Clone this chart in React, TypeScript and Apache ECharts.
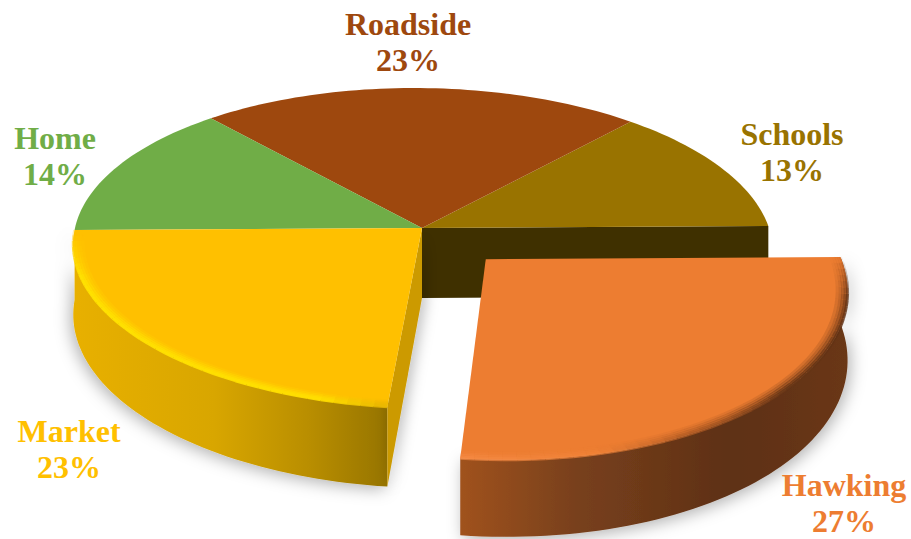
import React, { useEffect, useRef } from "react";
import * as echarts from "echarts";

// Data, in clockwise order from the 3 o'clock position
const categories = ["Hawking", "Market", "Home", "Roadside", "Schools"];
const percents = [27, 23, 14, 23, 13];

// Styling and layout, keyed by category
const topColors: Record<string, string> = {
  Hawking: "#ed7d31", Market: "#ffc000", Home: "#70ad47", Roadside: "#9e480e", Schools: "#997300",
};
const labelPos: Record<string, [number, number]> = {
  Hawking: [844, 503], Market: [69, 449], Home: [55, 156], Roadside: [408, 42], Schools: [792, 152],
};
const explode: Record<string, number> = { Hawking: 0.26 };
const stretchY: Record<string, number> = { Hawking: 1.05 };
const depthScale: Record<string, number> = { Hawking: 0.93 };
const drawOrder = ["Schools", "Roadside", "Home", "Market", "Hawking"];

const CX = 422, CY = 228, A = 347, B = 157.5, K = 0.125, H = 70, START = -0.7, SHEAR = 9;
const rad = (d: number) => (d * Math.PI) / 180;

function makeProject(name: string, startDeg: number, endDeg: number) {
  const mid = rad((startDeg + endDeg) / 2);
  const e = explode[name] || 0;
  const sy = stretchY[name] || 1;
  const ds = depthScale[name] || 1;
  const ox = e * Math.cos(mid), oy = e * Math.sin(mid);
  return (deg: number, r: number, z: number): [number, number] => {
    const X = r * Math.cos(rad(deg)) + ox, Y = r * sy * Math.sin(rad(deg)) + oy;
    const w = 1 / (1 - K * Y);
    return [CX + (A * X + SHEAR * Y) * w, CY + (B * Y + H * ds * z) * w];
  };
}
function arc(p: any, s: number, e: number, r: number, z: number) {
  const pts: [number, number][] = [];
  const n = Math.max(8, Math.ceil(Math.abs(e - s) / 1.5));
  for (let i = 0; i <= n; i++) pts.push(p(s + ((e - s) * i) / n, r, z));
  return pts;
}
const hGrad = (stops: [number, string][]) => ({
  type: "linear", x: 0, y: 0, x2: 1, y2: 0,
  colorStops: stops.map(([offset, color]) => ({ offset, color })),
});

const sideGrad: Record<string, any> = {
  Market: hGrad([[0, "#e8b000"], [0.45, "#d8a600"], [0.75, "#b98e00"], [1, "#967400"]]),
  Hawking: hGrad([[0, "#a0521f"], [0.3, "#78401c"], [0.7, "#5e3015"], [1, "#6a3717"]]),
};
// Rim colour along the slice's arc, t = 0 at its first angle and 1 at its last
const rimStops: Record<string, [number, number[], number][]> = {
  Hawking: [
    [0, [94, 48, 20], 0], [0.14, [94, 48, 20], 0.85], [0.45, [104, 54, 22], 1],
    [0.66, [178, 92, 36], 0.8], [0.8, [240, 130, 55], 0.7], [1, [246, 140, 70], 0.7],
  ],
  Market: [
    [0, [232, 180, 0], 0.9], [0.12, [255, 222, 0], 1], [0.8, [255, 226, 0], 1],
    [0.93, [255, 208, 0], 0.8], [1, [255, 192, 0], 0.2],
  ],
};
function rimAt(name: string, t: number) {
  const stops = rimStops[name];
  for (let i = 1; i < stops.length; i++) {
    if (t <= stops[i][0]) {
      const [a, ca, oa] = stops[i - 1], [b, cb, ob] = stops[i];
      const f = (t - a) / (b - a);
      const c = ca.map((v, j) => Math.round(v + (cb[j] - v) * f));
      return { color: `rgb(${c.join(",")})`, alpha: oa + (ob - oa) * f };
    }
  }
  const last = stops[stops.length - 1];
  return { color: `rgb(${last[1].join(",")})`, alpha: last[2] };
}
// Stepped soft edge: radius of each band and its strength
const rimSteps: [number, number][] = [
  [0.972, 0.18], [0.98, 0.35], [0.987, 0.55], [0.994, 0.8], [1.0, 0.95],
];
const RIM_STEP_DEG = 2;

function renderItem(params: any, api: any) {
  const name = drawOrder[params.dataIndex];
  const idx = categories.indexOf(name);
  const total = percents.reduce((s, v) => s + v, 0);
  const before = percents.slice(0, idx).reduce((s, v) => s + v, 0);
  const s = START + (before / total) * 360;
  const e = s + (api.value(0) / total) * 360;
  const p = makeProject(name, s, e);
  const children: any[] = [];
  const center = p(s, 0, 0), centerB = p(s, 0, 1);

  if (sideGrad[name]) {
    const top = arc(p, s, e, 1, 0), bot = arc(p, s, e, 1, 1);
    children.push({
      type: "polygon",
      shape: { points: [...top, ...bot.reverse()] },
      style: {
        fill: sideGrad[name],
        shadowBlur: 16, shadowColor: "rgba(0,0,0,0.3)", shadowOffsetX: name === "Market" ? -3 : 3, shadowOffsetY: 3,
      },
    });
  }
  if (name === "Market") {
    children.push({
      type: "polygon",
      shape: { points: [center, p(s, 1, 0), p(s, 1, 1), centerB] },
      style: { fill: "#cc9a00", shadowBlur: 14, shadowColor: "rgba(0,0,0,0.28)", shadowOffsetX: 3, shadowOffsetY: 3 },
    });
  }
  if (name === "Schools") {
    children.push({
      type: "polygon",
      shape: { points: [p(e, 0, 0), p(e, 1, 0), p(e, 1, 1), p(e, 0, 1)] },
      style: { fill: "#3f3000" },
    });
  }
  children.push({
    type: "polygon",
    shape: { points: [center, ...arc(p, s, e, 1, 0)] },
    style: { fill: topColors[name] },
  });
  if (rimStops[name]) {
    const n = Math.ceil((e - s) / RIM_STEP_DEG);
    rimSteps.forEach(([r, o]) => {
      for (let i = 0; i < n; i++) {
        const a0 = s + ((e - s) * i) / n, a1 = s + ((e - s) * (i + 1)) / n;
        const { color, alpha } = rimAt(name, (i + 0.5) / n);
        children.push({
          type: "polyline",
          shape: { points: [p(a0, r, 0), p(a1, r, 0)] },
          style: { fill: "none", stroke: color, lineWidth: 3, opacity: o * alpha, lineCap: "butt" },
        });
      }
    });
  }
  const [lx, ly] = labelPos[name];
  children.push({
    type: "text",
    z2: 100,
    style: {
      text: `${name}\n${api.value(0)}%`,
      x: lx, y: ly,
      align: "center", verticalAlign: "middle",
      fill: topColors[name],
      font: 'bold 32px "Liberation Serif"',
      lineHeight: 36,
    },
  });
  return { type: "group", children };
}

export default function App() {
  const ref = useRef<HTMLDivElement>(null);
  useEffect(() => {
    const chart = echarts.init(ref.current!, undefined, { renderer: "svg" });
    chart.setOption({
      animation: false,
      backgroundColor: "#ffffff",
      series: [
        {
          type: "custom",
          coordinateSystem: "none",
          renderItem,
          data: drawOrder.map((n) => [percents[categories.indexOf(n)]]),
          silent: true,
        },
      ],
    });
    return () => chart.dispose();
  }, []);
  return <div ref={ref} style={{ position: "fixed", left: 0, top: 0, width: 911, height: 539 }} />;
}
